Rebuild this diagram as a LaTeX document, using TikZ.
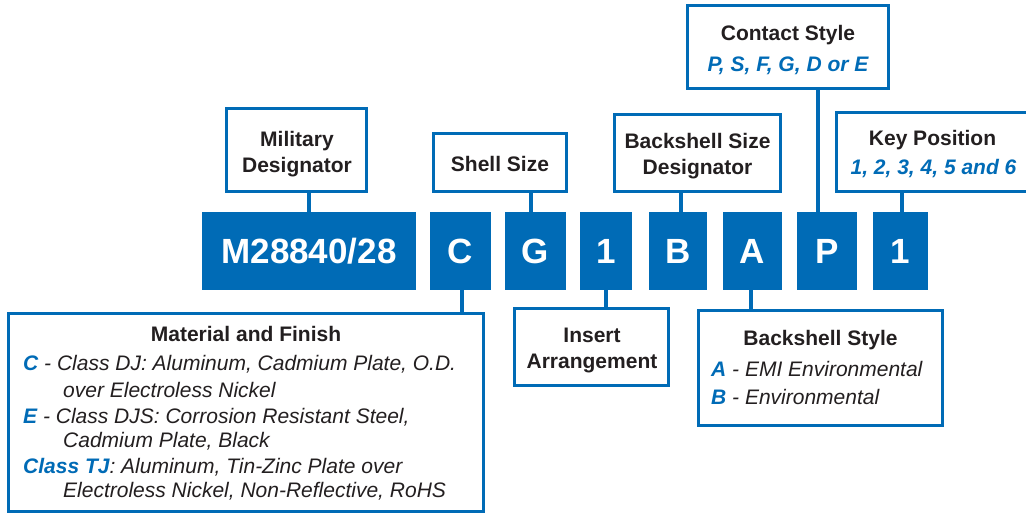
\documentclass[tikz,border=0pt]{standalone}
\usepackage{fontspec}
\setmainfont{Liberation Sans}
\definecolor{brand}{RGB}{0,107,182}
\definecolor{ink}{RGB}{35,31,32}
\tikzset{
  codebox/.style={fill=brand, draw=none, inner sep=0pt, outer sep=0pt, minimum height=78pt,
    text=white, font=\fontsize{35}{35}\selectfont\bfseries, text height=25pt, text depth=0pt},
  labelbox/.style={draw=brand, line width=3pt, fill=white, inner sep=0pt, outer sep=0pt},
  conn/.style={draw=brand, line width=4pt},
  ttl/.style={anchor=base, inner sep=0pt, text=ink, font=\fontsize{21}{25}\selectfont\bfseries},
  hl/.style={anchor=base, inner sep=0pt, text=brand, font=\fontsize{21}{25}\selectfont\bfseries\itshape},
  item/.style={anchor=base west, inner sep=0pt, text=ink, font=\fontsize{21}{25}\selectfont\itshape},
}
\newcommand\hlt[1]{{\color{brand}\bfseries #1}}
\begin{document}
\begin{tikzpicture}[x=1pt,y=-1pt]
\useasboundingbox (0,0) rectangle (1026,514);

% code boxes
\node[codebox, minimum width=214pt] (m)   at (309,251)   {M28840/28};
\node[codebox, minimum width=61pt]  (c)   at (460.5,251) {C};
\node[codebox, minimum width=61pt]  (g)   at (535.5,251) {G};
\node[codebox, minimum width=52pt]  (one) at (606,251)   {1};
\node[codebox, minimum width=58pt]  (b)   at (678,251)   {B};
\node[codebox, minimum width=59pt]  (a)   at (752.5,251) {A};
\node[codebox, minimum width=60pt]  (p)   at (827,251)   {P};
\node[codebox, minimum width=55pt]  (k)   at (900.5,251) {1};

% label boxes
\node[labelbox, minimum width=140pt, minimum height=83pt]  (md)  at (296.5,150) {};
\node[labelbox, minimum width=133pt, minimum height=58pt]  (ss)  at (500,162.5) {};
\node[labelbox, minimum width=166pt, minimum height=77pt]  (bsd) at (697.5,153) {};
\node[labelbox, minimum width=201pt, minimum height=83pt]  (cs)  at (788,47)    {};
\node[labelbox, minimum width=192pt, minimum height=79pt]  (kp)  at (932.5,152) {};
\node[labelbox, minimum width=475pt, minimum height=198pt] (mf)  at (246,412.5) {};
\node[labelbox, minimum width=154pt, minimum height=77pt]  (ia)  at (591.5,347) {};
\node[labelbox, minimum width=244pt, minimum height=115pt] (bs)  at (820.5,368) {};

% connectors
\draw[conn] (m.north) -- (m.north |- md.south);
\draw[conn] ([xshift=-4.5pt]g.north) -- ([xshift=-4.5pt]g.north |- ss.south);
\draw[conn] ([xshift=3pt]b.north) -- ([xshift=3pt]b.north |- bsd.south);
\draw[conn] ([xshift=-9pt]p.north) -- ([xshift=-9pt]p.north |- cs.south);
\draw[conn] ([xshift=1.5pt]k.north) -- ([xshift=1.5pt]k.north |- kp.south);
\draw[conn] ([xshift=1.5pt]c.south) -- ([xshift=1.5pt]c.south |- mf.north);
\draw[conn] (one.south) -- (one.south |- ia.north);
\draw[conn] ([xshift=-1.5pt]a.south) -- ([xshift=-1.5pt]a.south |- bs.north);

% texts
\node[ttl] (md1) at (297,146) {Military};
\node[ttl] (md2) at (297,172) {Designator};
\node[ttl] (ss1) at (500,171) {Shell Size};
\node[ttl] (bsd1) at (697.5,148) {Backshell Size};
\node[ttl] (bsd2) at (697.5,174) {Designator};
\node[ttl] (cs1) at (788,40) {Contact Style};
\node[hl]  (cs2) at (788,71) {P, S, F, G, D or E};
\node[ttl] (kp1) at (932.5,145) {Key Position};
\node[hl]  (kp2) at (933.5,174) {1, 2, 3, 4, 5 and 6};
\node[ttl] (ia1) at (592,342) {Insert};
\node[ttl] (ia2) at (592,368) {Arrangement};

\node[ttl] (mf0) at (246,341) {Material and Finish};
\node[item] (mf1) at (23,370) {\hlt{C} - Class DJ: Aluminum, Cadmium Plate, O.D.};
\node[item] (mf2) at (63,397) {over Electroless Nickel};
\node[item] (mf3) at (23,423) {\hlt{E} - Class DJS: Corrosion Resistant Steel,};
\node[item] (mf4) at (63,447) {Cadmium Plate, Black};
\node[item] (mf5) at (23,473) {\hlt{Class TJ}: Aluminum, Tin-Zinc Plate over};
\node[item] (mf6) at (63,497) {Electroless Nickel, Non-Reflective, RoHS};

\node[ttl] (bs0) at (820.5,345) {Backshell Style};
\node[item] (bs1) at (711,376) {\hlt{A} - EMI Environmental};
\node[item] (bs2) at (711,404) {\hlt{B} - Environmental};
\end{tikzpicture}
\end{document}
